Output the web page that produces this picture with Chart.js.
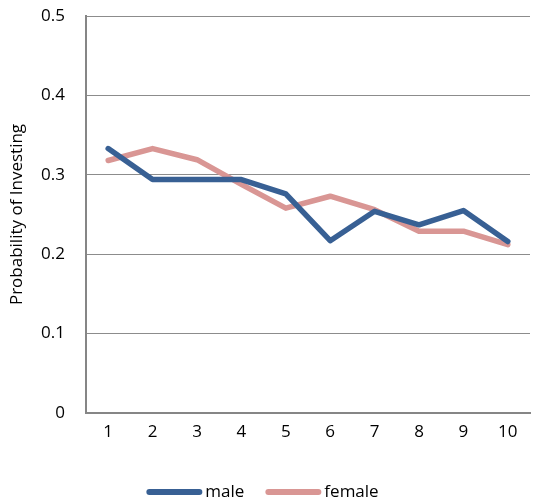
<!DOCTYPE html>
<html>
<head>
<meta charset="utf-8">
<script src="https://cdn.jsdelivr.net/npm/chart.js@4"></script>
<style>
  html, body { margin: 0; padding: 0; background: #fff; }
  #wrap { width: 533px; height: 504px; }
</style>
</head>
<body>
<div id="wrap"><canvas id="c" width="533" height="504"></canvas></div>
<script>
const categories = ['1', '2', '3', '4', '5', '6', '7', '8', '9', '10'];
const maleValues = [0.333, 0.294, 0.294, 0.294, 0.276, 0.217, 0.254, 0.237, 0.255, 0.216];
const femaleValues = [0.318, 0.333, 0.319, 0.288, 0.258, 0.273, 0.256, 0.229, 0.229, 0.212];
const yTicks = [0, 0.1, 0.2, 0.3, 0.4, 0.5];

const FONT = '"Open Sans", sans-serif';
const FONT_SIZE = 17;

// Bottom legend: long rounded swatch with its label set right beside it.
const swatchLegend = {
  id: 'swatchLegend',
  afterDraw(chart) {
    const ctx = chart.ctx;
    const swatch = 56, gap = 3, spacing = 21, y = 492;
    ctx.save();
    ctx.font = `${FONT_SIZE}px ${FONT}`;
    const items = chart.data.datasets.map(ds => ({
      text: ds.label, color: ds.borderColor, w: ctx.measureText(ds.label).width
    }));
    const total = items.reduce((s, it) => s + swatch + gap + it.w, 0) + spacing * (items.length - 1);
    let x = chart.width / 2 - 4 - total / 2;
    ctx.textBaseline = 'middle';
    ctx.textAlign = 'left';
    items.forEach(it => {
      ctx.strokeStyle = it.color;
      ctx.lineWidth = 6;
      ctx.lineCap = 'round';
      ctx.beginPath();
      ctx.moveTo(x + 3, y);
      ctx.lineTo(x + swatch - 3, y);
      ctx.stroke();
      ctx.fillStyle = '#000';
      ctx.fillText(it.text, x + swatch + gap, y);
      x += swatch + gap + it.w + spacing;
    });
    ctx.restore();
  }
};

new Chart(document.getElementById('c'), {
  type: 'line',
  data: {
    labels: categories,
    datasets: [
      { label: 'male', data: maleValues, borderColor: '#386094', backgroundColor: '#386094',
        borderWidth: 5.5, pointRadius: 0, tension: 0, borderJoinStyle: 'round', borderCapStyle: 'round' },
      { label: 'female', data: femaleValues, borderColor: '#D99694', backgroundColor: '#D99694',
        borderWidth: 5.5, pointRadius: 0, tension: 0, borderJoinStyle: 'round', borderCapStyle: 'round' }
    ]
  },
  plugins: [swatchLegend],
  options: {
    responsive: false,
    animation: false,
    devicePixelRatio: 1,
    layout: { padding: { top: 16, right: 3, left: 0, bottom: 47 } },
    plugins: {
      tooltip: { enabled: false },
      legend: { display: false }
    },
    scales: {
      x: {
        offset: true,
        grid: { display: false, drawTicks: false },
        border: { display: true, color: '#868686', width: 2 },
        ticks: { font: { family: FONT, size: FONT_SIZE }, color: '#000', padding: 9 },
        afterFit(scale) { scale.height = 44; scale.paddingLeft = 0; scale.paddingRight = 0; }
      },
      y: {
        min: 0, max: 0.5,
        afterBuildTicks(scale) { scale.ticks = yTicks.map(v => ({ value: v })); },
        grid: { color: '#8c8c8c', lineWidth: 1, drawTicks: false },
        border: { display: true, color: '#868686', width: 2 },
        ticks: {
          font: { family: FONT, size: FONT_SIZE }, color: '#000', padding: 21,
          callback: v => String(v)
        },
        title: { display: true, text: 'Probability of Investing', font: { family: FONT, size: FONT_SIZE }, color: '#000', padding: { top: 7, bottom: 0 } },
        afterFit(scale) { scale.width = 86; scale.paddingTop = 0; scale.paddingBottom = 0; }
      }
    }
  }
});
</script>
</body>
</html>
